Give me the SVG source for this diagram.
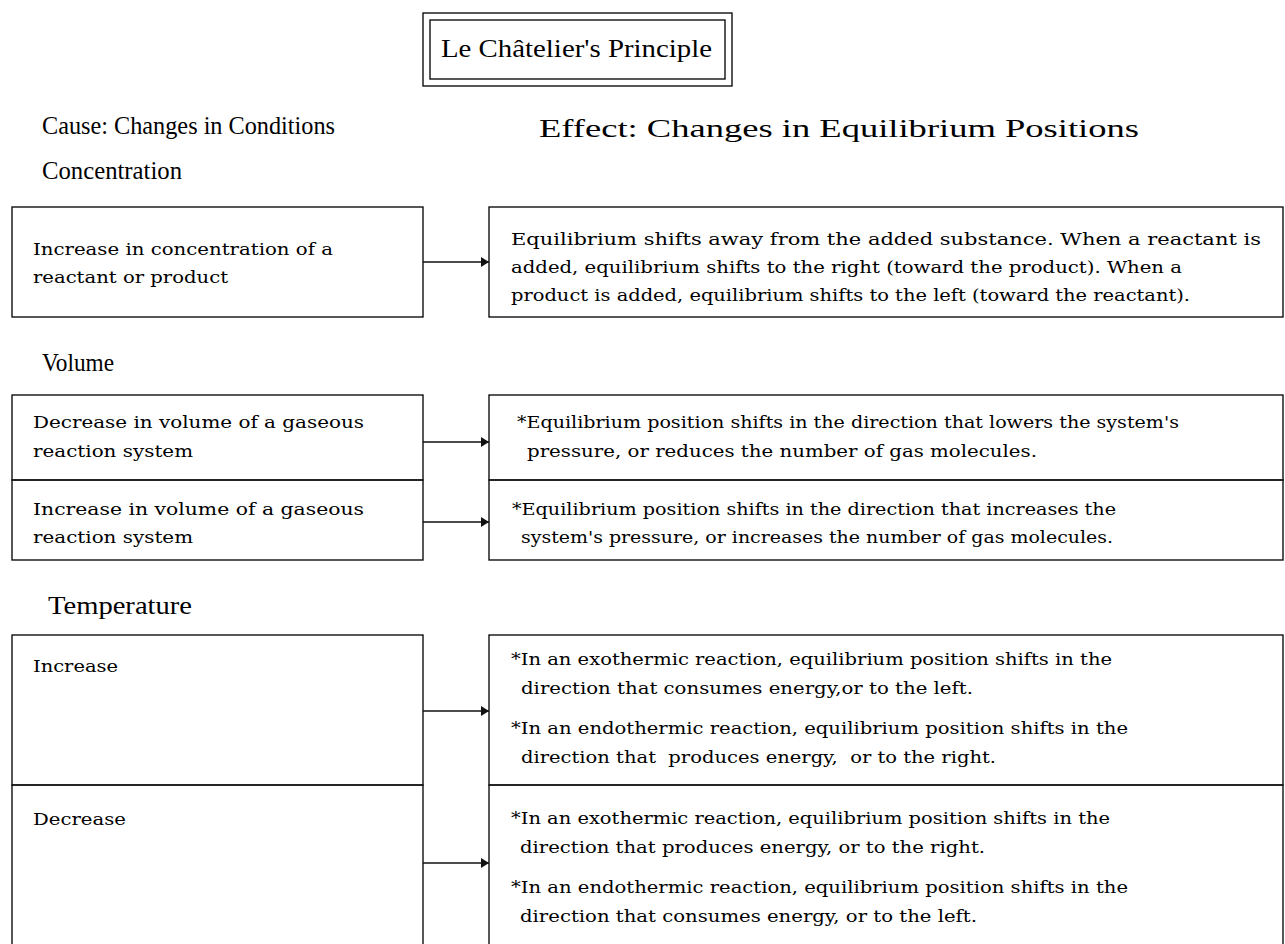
<svg xmlns="http://www.w3.org/2000/svg" width="1285" height="944" viewBox="0 0 1285 944">
<defs>
<style>
.h{font-family:"Liberation Serif","Times New Roman",serif;font-size:25px;fill:#000}
.b{font-family:"DejaVu Serif","Liberation Serif",serif;font-size:17px;fill:#000;white-space:pre}
.box{fill:none;stroke:#111;stroke-width:1.4}
.con{stroke:#111;stroke-width:1.4;fill:none}
</style>
<marker id="ah" markerWidth="8" markerHeight="10" refX="8" refY="5" orient="auto" markerUnits="userSpaceOnUse">
<path d="M0,0 L8,5 L0,10 Z" fill="#111"/>
</marker>
</defs>
<rect width="1285" height="944" fill="#fff"/>

<g id="title">
<rect class="box" x="423" y="13" width="309" height="73"/>
<rect class="box" x="430" y="20" width="295" height="59"/>
<text class="h" x="441" y="57" textLength="271" lengthAdjust="spacingAndGlyphs" style="font-size:26px">Le Châtelier's Principle</text>
</g>

<g id="headers">
<text class="h" x="42" y="134" textLength="293" lengthAdjust="spacingAndGlyphs">Cause: Changes in Conditions</text>
<text class="h" x="539" y="137" textLength="600" lengthAdjust="spacingAndGlyphs" style="font-size:26px">Effect: Changes in Equilibrium Positions</text>
<text class="h" x="42" y="179" textLength="140" lengthAdjust="spacingAndGlyphs">Concentration</text>
<text class="h" x="42" y="371" textLength="72" lengthAdjust="spacingAndGlyphs">Volume</text>
<text class="h" x="48" y="614" textLength="144" lengthAdjust="spacingAndGlyphs">Temperature</text>
</g>

<g id="conc-cause">
<rect class="box" x="12" y="207" width="411" height="110"/>
<text class="b" x="33" y="255" textLength="300" lengthAdjust="spacingAndGlyphs">Increase in concentration of a</text>
<text class="b" x="33" y="283" textLength="195" lengthAdjust="spacingAndGlyphs">reactant or product</text>
</g>
<g id="conc-effect">
<rect class="box" x="489" y="207" width="794" height="110"/>
<text class="b" x="511" y="245" textLength="750" lengthAdjust="spacingAndGlyphs">Equilibrium shifts away from the added substance. When a reactant is</text>
<text class="b" x="511" y="273" textLength="671" lengthAdjust="spacingAndGlyphs">added, equilibrium shifts to the right (toward the product). When a</text>
<text class="b" x="511" y="301" textLength="679" lengthAdjust="spacingAndGlyphs">product is added, equilibrium shifts to the left (toward the reactant).</text>
</g>

<g id="vol-dec-cause">
<rect class="box" x="12" y="395" width="411" height="85"/>
<text class="b" x="33" y="428" textLength="331" lengthAdjust="spacingAndGlyphs">Decrease in volume of a gaseous</text>
<text class="b" x="33" y="457" textLength="160" lengthAdjust="spacingAndGlyphs">reaction system</text>
</g>
<g id="vol-dec-effect">
<rect class="box" x="489" y="395" width="794" height="85"/>
<text class="b" x="517" y="428" textLength="662" lengthAdjust="spacingAndGlyphs">*Equilibrium position shifts in the direction that lowers the system's</text>
<text class="b" x="527" y="457" textLength="510" lengthAdjust="spacingAndGlyphs">pressure, or reduces the number of gas molecules.</text>
</g>
<g id="vol-inc-cause">
<rect class="box" x="12" y="480" width="411" height="80"/>
<text class="b" x="33" y="515" textLength="331" lengthAdjust="spacingAndGlyphs">Increase in volume of a gaseous</text>
<text class="b" x="33" y="543" textLength="160" lengthAdjust="spacingAndGlyphs">reaction system</text>
</g>
<g id="vol-inc-effect">
<rect class="box" x="489" y="480" width="794" height="80"/>
<text class="b" x="512" y="515" textLength="604" lengthAdjust="spacingAndGlyphs">*Equilibrium position shifts in the direction that increases the</text>
<text class="b" x="521" y="543" textLength="592" lengthAdjust="spacingAndGlyphs">system's pressure, or increases the number of gas molecules.</text>
</g>

<g id="temp-inc-cause">
<rect class="box" x="12" y="635" width="411" height="150"/>
<text class="b" x="33" y="672" textLength="85" lengthAdjust="spacingAndGlyphs">Increase</text>
</g>
<g id="temp-inc-effect">
<rect class="box" x="489" y="635" width="794" height="150"/>
<text class="b" x="511" y="665" textLength="601" lengthAdjust="spacingAndGlyphs">*In an exothermic reaction, equilibrium position shifts in the</text>
<text class="b" x="521" y="694" textLength="452" lengthAdjust="spacingAndGlyphs">direction that consumes energy,or to the left.</text>
<text class="b" x="511" y="734" textLength="617" lengthAdjust="spacingAndGlyphs">*In an endothermic reaction, equilibrium position shifts in the</text>
<text class="b" x="521" y="763" textLength="475" lengthAdjust="spacingAndGlyphs">direction that  produces energy,  or to the right.</text>
</g>
<g id="temp-dec-cause">
<rect class="box" x="12" y="785" width="411" height="170"/>
<text class="b" x="33" y="825" textLength="93" lengthAdjust="spacingAndGlyphs">Decrease</text>
</g>
<g id="temp-dec-effect">
<rect class="box" x="489" y="785" width="794" height="170"/>
<text class="b" x="511" y="824" textLength="599" lengthAdjust="spacingAndGlyphs">*In an exothermic reaction, equilibrium position shifts in the</text>
<text class="b" x="520" y="853" textLength="465" lengthAdjust="spacingAndGlyphs">direction that produces energy, or to the right.</text>
<text class="b" x="511" y="893" textLength="617" lengthAdjust="spacingAndGlyphs">*In an endothermic reaction, equilibrium position shifts in the</text>
<text class="b" x="520" y="922" textLength="457" lengthAdjust="spacingAndGlyphs">direction that consumes energy, or to the left.</text>
</g>

<g id="connectors">
<line class="con" x1="423" y1="262" x2="489" y2="262" marker-end="url(#ah)"/>
<line class="con" x1="423" y1="442" x2="489" y2="442" marker-end="url(#ah)"/>
<line class="con" x1="423" y1="522" x2="489" y2="522" marker-end="url(#ah)"/>
<line class="con" x1="423" y1="711" x2="489" y2="711" marker-end="url(#ah)"/>
<line class="con" x1="423" y1="863" x2="489" y2="863" marker-end="url(#ah)"/>
</g>
</svg>
